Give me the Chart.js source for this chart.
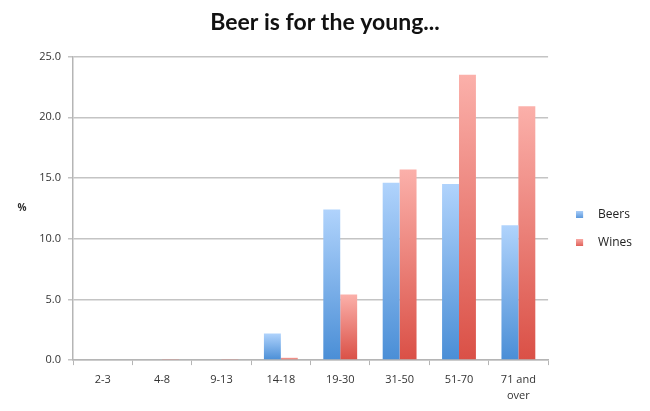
<!DOCTYPE html>
<html>
<head>
<meta charset="utf-8">
<script src="https://cdn.jsdelivr.net/npm/chart.js@4"></script>
<style>
  html, body { margin: 0; padding: 0; background: #fff; }
  #wrap { width: 650px; height: 411px; }
</style>
</head>
<body>
<div id="wrap"><canvas id="beerChart" width="650" height="411"></canvas></div>
<script>
const ageGroups = ['2-3', '4-8', '9-13', '14-18', '19-30', '31-50', '51-70', ['71 and', 'over']];
const beers = [0, 0, 0, 2.2, 12.4, 14.6, 14.5, 11.1];
const wines = [0, 0.1, 0.1, 0.2, 5.4, 15.7, 23.5, 20.9];
const yTicks = [0, 5, 10, 15, 20, 25];

// each bar fades from light at its top to dark at the baseline
function barFill(light, dark) {
    return function (c) {
        const chart = c.chart;
        if (!chart.chartArea || c.type !== 'data') return dark;
        const y = chart.scales.y;
        const top = y.getPixelForValue(c.raw);
        const base = y.getPixelForValue(0);
        if (base - top < 1) return light;
        const g = chart.ctx.createLinearGradient(0, top, 0, base);
        g.addColorStop(0, light);
        g.addColorStop(1, dark);
        return g;
    };
}

// legend marker: small square on the left of a wider transparent image
function legendMark(light, dark) {
    const cv = document.createElement('canvas');
    cv.width = 20; cv.height = 7;
    const x = cv.getContext('2d');
    const g = x.createLinearGradient(0, 0, 0, 7);
    g.addColorStop(0, light);
    g.addColorStop(1, dark);
    x.fillStyle = g;
    x.fillRect(0, 0, 7, 7);
    return cv;
}

const percentLabel = {
    id: 'percentLabel',
    afterDraw(chart) {
        const ctx = chart.ctx;
        const a = chart.chartArea;
        ctx.save();
        ctx.font = 'bold 10px "Open Sans"';
        ctx.fillStyle = '#333';
        ctx.textAlign = 'center';
        ctx.textBaseline = 'middle';
        ctx.fillText('%', 22, (a.top + a.bottom) / 2);
        ctx.restore();
    }
};

new Chart(document.getElementById('beerChart'), {
    type: 'bar',
    data: {
        labels: ageGroups,
        datasets: [
            {
                label: 'Beers',
                data: beers,
                backgroundColor: barFill('#b0d3fc', '#4a8ed6'),
                pointStyle: legendMark('#a9cdf9', '#5a98dc'),
                categoryPercentage: 0.57,
                barPercentage: 1.0
            },
            {
                label: 'Wines',
                data: wines,
                backgroundColor: barFill('#fbb0aa', '#da5046'),
                pointStyle: legendMark('#f9aaa5', '#e06058'),
                categoryPercentage: 0.57,
                barPercentage: 1.0
            }
        ]
    },
    options: {
        responsive: false,
        animation: false,
        layout: { padding: { left: 8, right: 8, top: 0, bottom: 0 } },
        plugins: {
            title: {
                display: true,
                text: 'Beer is for the young...',
                color: '#111',
                font: { family: 'Lato', size: 23, weight: 'bold' },
                padding: { top: 9, bottom: 20 }
            },
            legend: {
                position: 'right',
                title: { display: true, text: '', font: { size: 1 }, padding: { top: 45, bottom: 0 } },
                labels: {
                    usePointStyle: true,
                    boxWidth: 12,
                    boxHeight: 7,
                    padding: 16,
                    color: '#222',
                    font: { family: 'Open Sans', size: 12 }
                }
            },
            tooltip: { enabled: false }
        },
        scales: {
            x: {
                grid: {
                    drawOnChartArea: false,
                    drawTicks: true,
                    tickLength: 5,
                    color: '#b5b5b5',
                    offset: true
                },
                border: { color: '#b5b5b5', width: 1.5 },
                ticks: {
                    color: '#333',
                    padding: 7,
                    maxRotation: 0,
                    font: { family: 'Open Sans', size: 11, lineHeight: 1.45 }
                }
            },
            y: {
                min: 0,
                max: 25,
                afterBuildTicks(scale) {
                    scale.ticks = yTicks.map(v => ({ value: v }));
                },
                afterFit(scale) { scale.width = 65; },
                grid: {
                    color: '#c4c4c4',
                    lineWidth: 1.5,
                    tickLength: 5
                },
                border: { color: '#b5b5b5', width: 1.5 },
                ticks: {
                    color: '#333',
                    padding: 7,
                    font: { family: 'Open Sans', size: 11 },
                    callback: v => v.toFixed(1)
                }
            },
            // empty spacer between the plot and the legend
            gap: {
                type: 'linear',
                position: 'right',
                display: true,
                grid: { display: false },
                border: { display: false },
                ticks: { display: false },
                afterFit(scale) { scale.width = 16; }
            }
        }
    },
    plugins: [percentLabel]
});
</script>
</body>
</html>
